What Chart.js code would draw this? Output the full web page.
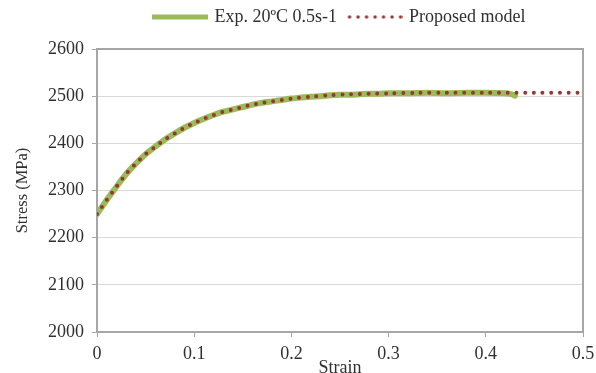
<!DOCTYPE html>
<html>
<head>
<meta charset="utf-8">
<script src="https://cdn.jsdelivr.net/npm/chart.js@4"></script>
<style>
  html, body { margin: 0; padding: 0; background: #fff; }
  #wrap { width: 596px; height: 373px; }
</style>
</head>
<body>
<div id="wrap"><canvas id="stressChart" width="596" height="373"></canvas></div>
<script>
// Data
const expStrain = [0, 0.01, 0.02, 0.03, 0.04, 0.05, 0.06, 0.07, 0.08, 0.09,
    0.10, 0.11, 0.12, 0.13, 0.14, 0.15, 0.16, 0.17, 0.18, 0.19,
    0.20, 0.21, 0.22, 0.23, 0.24, 0.25, 0.26, 0.27, 0.28, 0.29,
    0.30, 0.32, 0.34, 0.36, 0.38, 0.40, 0.42, 0.425, 0.43];
const expStress = [2250, 2280, 2308, 2335, 2357, 2377, 2393, 2408, 2421, 2433,
    2443, 2452, 2460, 2467, 2472, 2477, 2482, 2486, 2489, 2492,
    2495, 2497, 2499, 2500, 2502, 2503, 2503, 2504, 2505, 2505,
    2506, 2506, 2507, 2506, 2507, 2507, 2506, 2505, 2501];

const modelStrain = [0, 0.01, 0.02, 0.03, 0.04, 0.05, 0.06, 0.07, 0.08, 0.09,
    0.10, 0.11, 0.12, 0.13, 0.14, 0.15, 0.16, 0.17, 0.18, 0.19,
    0.20, 0.22, 0.24, 0.26, 0.28, 0.30, 0.33, 0.36, 0.40, 0.45, 0.50];
const modelStress = [2250, 2280, 2308, 2335, 2357, 2377, 2393, 2408, 2421, 2433,
    2443, 2452, 2460, 2467, 2472, 2477, 2482, 2486, 2489, 2492,
    2495, 2499, 2502, 2504, 2505, 2506, 2507, 2507, 2507, 2507, 2507];

const seriesLabels = ['Exp. 20ºC 0.5s-1', 'Proposed model'];
const xTicks = [0, 0.1, 0.2, 0.3, 0.4, 0.5];

const FONT = "'Liberation Serif', 'Times New Roman', serif";
const TEXT = '#303030';
const AXIS = '#a6a6a6';
const GREEN = '#9bbb59';
const RED = '#953735';

const toPoints = (xs, ys) => xs.map((x, i) => ({ x: x, y: ys[i] }));

// small line samples for the legend
function legendSample(color, width, dash) {
    const c = document.createElement('canvas');
    c.width = 56;
    c.height = 10;
    const g = c.getContext('2d');
    g.strokeStyle = color;
    g.lineWidth = width;
    g.lineCap = dash ? 'round' : 'butt';
    g.setLineDash(dash || []);
    g.beginPath();
    g.moveTo(dash ? 3 : 0, 5);
    g.lineTo(56, 5);
    g.stroke();
    return c;
}

// frame round the plot area (top and right sides)
const frame = {
    id: 'frame',
    beforeDatasetsDraw(chart) {
        const { ctx, chartArea: a } = chart;
        ctx.save();
        ctx.strokeStyle = AXIS;
        ctx.lineWidth = 2;
        ctx.strokeRect(a.left, a.top, a.right - a.left, a.bottom - a.top);
        ctx.restore();
    }
};

// leave extra room under the legend
const legendRoom = {
    id: 'legendRoom',
    beforeInit(chart) {
        const fit = chart.legend.fit;
        chart.legend.fit = function() {
            fit.bind(chart.legend)();
            this.height = 53;
        };
    }
};

new Chart(document.getElementById('stressChart'), {
    type: 'line',
    data: {
        datasets: [{
            label: seriesLabels[0],
            data: toPoints(expStrain, expStress),
            borderColor: GREEN,
            backgroundColor: GREEN,
            borderWidth: 6,
            borderCapStyle: 'round',
            borderJoinStyle: 'round',
            pointRadius: 0,
            pointStyle: legendSample(GREEN, 5),
            tension: 0.3,
            order: 2
        }, {
            label: seriesLabels[1],
            data: toPoints(modelStrain, modelStress),
            borderColor: RED,
            backgroundColor: RED,
            borderWidth: 4,
            borderDash: [0, 8.7],
            borderCapStyle: 'round',
            pointRadius: 0,
            pointStyle: legendSample(RED, 3.5, [0, 8.5]),
            tension: 0.3,
            order: 1
        }]
    },
    options: {
        responsive: false,
        animation: false,
        layout: { padding: { left: 9, right: 13, top: -4, bottom: 0 } },
        plugins: {
            legend: {
                position: 'top',
                fullSize: false,
                labels: {
                    usePointStyle: true,
                    pointStyleWidth: 51,
                    padding: 12,
                    color: TEXT,
                    font: { family: FONT, size: 18 },
                    sort: (a, b) => a.datasetIndex - b.datasetIndex
                }
            },
            tooltip: { enabled: false }
        },
        scales: {
            x: {
                type: 'linear',
                min: 0,
                max: 0.5,
                afterBuildTicks: s => { s.ticks = xTicks.map(v => ({ value: v })); },
                afterFit: s => { s.height = 41; s.paddingLeft = 0; s.paddingRight = 0; },
                border: { color: AXIS, width: 2 },
                grid: { drawOnChartArea: false, drawTicks: true, tickLength: 5, tickColor: AXIS },
                ticks: { color: TEXT, padding: 6, maxRotation: 0, font: { family: FONT, size: 18 } },
                title: { display: true, text: 'Strain', color: TEXT, padding: { top: 0, bottom: -6 }, font: { family: FONT, size: 18 } }
            },
            y: {
                min: 2000,
                max: 2600,
                afterFit: s => { s.width = 88; },
                border: { color: AXIS, width: 2 },
                grid: { color: '#d9d9d9', lineWidth: 1, tickLength: 5, tickColor: AXIS },
                ticks: {
                    stepSize: 100,
                    color: TEXT,
                    padding: 8,
                    font: { family: FONT, size: 18 },
                    callback: v => String(v)
                },
                title: { display: true, text: 'Stress (MPa)', color: TEXT, padding: 4, font: { family: FONT, size: 16.5 } }
            }
        }
    },
    plugins: [frame, legendRoom]
});
</script>
</body>
</html>
